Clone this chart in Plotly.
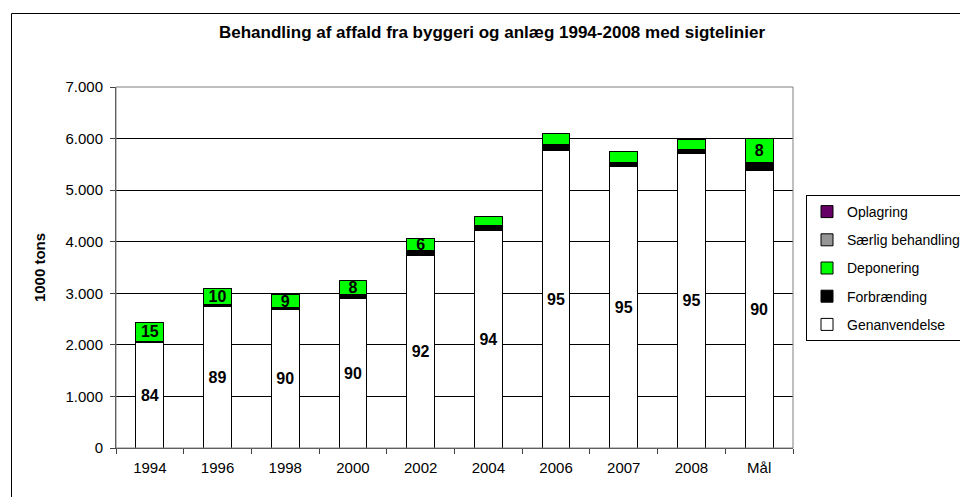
import plotly.graph_objects as go

categories = ["1994", "1996", "1998", "2000", "2002", "2004", "2006", "2007", "2008", "Mål"]
genanvendelse = [2045, 2750, 2685, 2900, 3735, 4219, 5770, 5460, 5710, 5380]
forbraending = [25, 35, 30, 70, 97, 97, 110, 85, 70, 150]
deponering = [365, 310, 270, 270, 227, 175, 220, 205, 210, 470]
saerlig = [0, 0, 0, 0, 0, 0, 0, 0, 0, 0]
oplagring = [0, 0, 0, 0, 0, 0, 0, 0, 0, 0]
genanv_pct = ["84", "89", "90", "90", "92", "94", "95", "95", "95", "90"]
depon_pct = ["15", "10", "9", "8", "6", "", "", "", "", "8"]
y_ticks = [0, 1000, 2000, 3000, 4000, 5000, 6000, 7000]

FONT = "Arial, Liberation Sans, sans-serif"
line = dict(color="black", width=1)

# page body has an 8px margin; figure is sized/offset to compensate
OFF = 8
W, H = 968 - OFF, 497 - OFF
PL, PR, PT, PB = 116, 793, 87, 448  # plot area in page pixels
pw, ph = PR - PL, PB - PT

fig = go.Figure()
fig.add_trace(go.Bar(name="Genanvendelse", x=categories, y=genanvendelse,
                     marker=dict(color="white", line=line), legendgroup="g1", legendrank=5,
                     text=genanv_pct, textposition="inside", insidetextanchor="middle", textangle=0,
                     textfont=dict(family=FONT, size=16, color="black", weight="bold")))
fig.add_trace(go.Bar(name="Forbrænding", x=categories, y=forbraending,
                     marker=dict(color="black", line=line), legendgroup="g2", legendrank=4))
fig.add_trace(go.Bar(name="Deponering", x=categories, y=deponering,
                     marker=dict(color="#00FF00", line=line), legendgroup="g3", legendrank=3,
                     text=depon_pct, textposition="inside", insidetextanchor="middle", textangle=0,
                     textfont=dict(family=FONT, size=16, color="black", weight="bold")))
fig.add_trace(go.Bar(name="Særlig behandling", x=categories, y=saerlig,
                     marker=dict(color="#969696", line=line), legendgroup="g4", legendrank=2))
fig.add_trace(go.Bar(name="Oplagring", x=categories, y=oplagring,
                     marker=dict(color="#660066", line=line), legendgroup="g5", legendrank=1))

fig.update_layout(
    width=W, height=H,
    barmode="stack", bargap=0.59,
    separators=",.",
    paper_bgcolor="white", plot_bgcolor="white",
    font=dict(family=FONT, size=14, color="black"),
    margin=dict(l=PL - OFF, r=W - (PR - OFF), t=PT - OFF, b=H - (PB - OFF), autoexpand=False),
    uniformtext=dict(minsize=16, mode="show"),
    title=dict(text="<b>Behandling af affald fra byggeri og anlæg 1994-2008 med sigtelinier</b>",
               x=(492 - OFF) / W, xanchor="center", y=1 - (32 - OFF) / H, yanchor="middle",
               yref="container", font=dict(family=FONT, size=17, color="black")),
    legend=dict(x=(806 - PL) / pw, xanchor="left", y=(PB - 195) / ph, yanchor="top",
                bordercolor="black", borderwidth=1, bgcolor="white",
                traceorder="grouped", tracegroupgap=7, itemwidth=30,
                font=dict(family=FONT, size=14, color="black")),
    xaxis=dict(showline=True, linecolor="#404040", linewidth=1,
               ticks="outside", ticklen=5, tickcolor="#404040", tickson="boundaries",
               ticklabelstandoff=6,
               tickfont=dict(family=FONT, size=15, color="black"), showgrid=False),
    yaxis=dict(range=[0, 7000], tickvals=y_ticks, tickformat=",d",
               showline=True, linecolor="#404040", linewidth=1,
               ticks="outside", ticklen=5, tickcolor="#404040", ticklabelstandoff=4,
               showgrid=True, gridcolor="black", gridwidth=1, zeroline=False,
               tickfont=dict(family=FONT, size=15, color="black"),
               title=dict(text="<b>1000 tons</b>", standoff=16,
                          font=dict(family=FONT, size=15, color="black"))),
    shapes=[
        dict(type="rect", xref="paper", yref="paper", x0=0, x1=1, y0=0, y1=1,
             line=dict(color="#808080", width=1), layer="above"),
        # outer chart-area border (top and left sides; others fall outside the window)
        dict(type="line", xref="paper", yref="paper",
             x0=(11.5 - PL) / pw, x1=(968 - PL) / pw,
             y0=(PB - 13.5) / ph, y1=(PB - 13.5) / ph,
             line=dict(color="black", width=1), layer="above"),
        dict(type="line", xref="paper", yref="paper",
             x0=(11.5 - PL) / pw, x1=(11.5 - PL) / pw,
             y0=(PB - 497) / ph, y1=(PB - 13.5) / ph,
             line=dict(color="black", width=1), layer="above"),
    ],
)

fig.write_html("out.html")
